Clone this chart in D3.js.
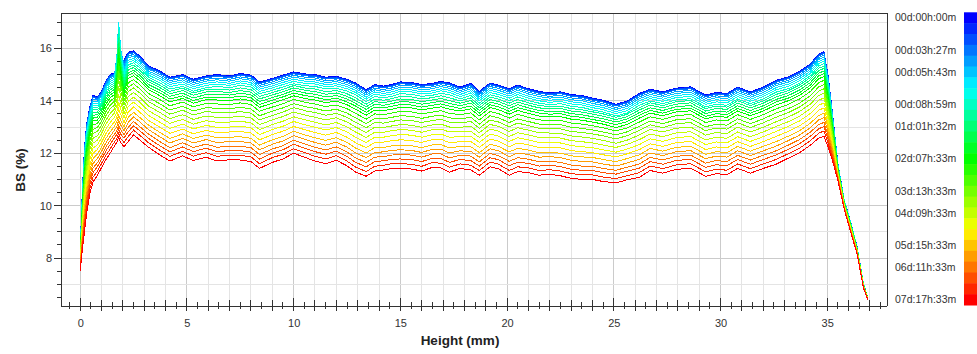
<!DOCTYPE html>
<html>
<head>
<meta charset="utf-8">
<script src="https://cdn.jsdelivr.net/npm/d3@7"></script>
<style>
  body { margin: 0; background: #fff; }
  svg { display: block; font-family: "Liberation Sans", Arial, sans-serif; }
</style>
</head>
<body>
<div id="chart"></div>
<script>
// heights along the sample (mm), shared by every curve
const heights = [
  0, 0.1, 0.2, 0.3, 0.45, 0.6, 0.8, 1.0, 1.2, 1.4, 1.6, 1.72, 1.8, 1.9, 2.05, 2.25, 2.5, 2.8, 3.2,
  3.7, 4.2, 4.8, 5.3, 5.9, 6.4, 7.0, 7.5, 8.0, 8.4, 9.0, 9.5, 10.0, 10.6, 11.0, 11.5, 12.0, 12.5, 12.9, 13.4,
  13.8, 14.2, 14.6, 15.0, 15.5, 16.0, 16.5, 16.9, 17.3, 17.8, 18.3, 18.7, 19.2, 19.6, 20.1, 20.5, 21.0, 21.5,
  22.0, 22.5, 23.0, 23.5, 24.0, 24.5, 25.1, 25.6, 26.2, 26.7, 27.3, 27.9, 28.6, 29.3, 29.8, 30.3, 30.8, 31.4,
  32.0, 32.6, 33.2, 33.7, 34.2, 34.6,
  34.85, 35.05, 35.25, 35.5, 35.8, 36.1, 36.4, 36.7, 36.9
];

// BS (%) curves, first scan (t = 0) first, last scan last
const bsCurves = [
  [8.4, 10.6, 12.2, 13.1, 13.75, 14.2, 14.15, 14.35, 14.75, 15.0, 15.07, 15.12, 15.3, 15.4, 15.55, 15.85, 15.9, 15.7, 15.33,
   15.15, 14.9, 15.0, 14.82, 14.95, 15.0, 14.95, 15.04, 14.98, 14.72, 14.85, 14.98, 15.1, 15.02, 15.0, 14.9, 14.93, 14.82, 14.68, 14.42,
   14.62, 14.56, 14.62, 14.72, 14.7, 14.62, 14.66, 14.74, 14.68, 14.52, 14.66, 14.36, 14.68, 14.6, 14.46, 14.6, 14.46, 14.36, 14.3, 14.34,
   14.24, 14.2, 14.1, 14.02, 13.87, 13.98, 14.28, 14.44, 14.34, 14.48, 14.53, 14.22, 14.32, 14.28, 14.52, 14.34, 14.52, 14.78, 14.92, 15.12,
   15.4, 15.78, 15.87, 14.9, 13.5, 11.6, 10.2, 9.37, 8.43, 7.03, 6.5],
  [8.39, 10.59, 12.18, 13.08, 13.73, 14.18, 14.13, 14.33, 14.73, 14.98, 15.05, 15.23, 15.6, 15.51, 15.53, 15.83, 15.88, 15.68, 15.31,
   15.13, 14.88, 14.98, 14.8, 14.93, 14.98, 14.93, 15.02, 14.96, 14.7, 14.83, 14.96, 15.08, 15.0, 14.98, 14.88, 14.91, 14.8, 14.66, 14.4,
   14.6, 14.54, 14.6, 14.7, 14.68, 14.6, 14.64, 14.72, 14.66, 14.5, 14.64, 14.34, 14.66, 14.58, 14.44, 14.58, 14.44, 14.34, 14.28, 14.32,
   14.22, 14.18, 14.08, 14.0, 13.85, 13.96, 14.26, 14.42, 14.32, 14.46, 14.51, 14.2, 14.3, 14.26, 14.5, 14.32, 14.5, 14.76, 14.9, 15.1,
   15.38, 15.76, 15.85, 14.88, 13.49, 11.6, 10.2, 9.37, 8.43, 7.03, 6.5],
  [8.39, 10.57, 12.16, 13.06, 13.71, 14.16, 14.11, 14.31, 14.71, 14.96, 15.03, 15.38, 16.0, 15.66, 15.49, 15.81, 15.86, 15.66, 15.29,
   15.11, 14.86, 14.96, 14.78, 14.91, 14.96, 14.91, 15.0, 14.94, 14.68, 14.81, 14.94, 15.06, 14.98, 14.96, 14.86, 14.89, 14.78, 14.64, 14.38,
   14.58, 14.52, 14.58, 14.68, 14.66, 14.58, 14.62, 14.7, 14.64, 14.48, 14.62, 14.32, 14.64, 14.56, 14.42, 14.56, 14.42, 14.32, 14.26, 14.3,
   14.2, 14.16, 14.06, 13.98, 13.83, 13.94, 14.24, 14.4, 14.3, 14.44, 14.49, 14.18, 14.28, 14.24, 14.48, 14.3, 14.48, 14.74, 14.88, 15.08,
   15.36, 15.74, 15.83, 14.86, 13.48, 11.59, 10.2, 9.36, 8.43, 7.03, 6.5],
  [8.38, 10.55, 12.13, 13.03, 13.68, 14.13, 14.08, 14.29, 14.68, 14.93, 15.01, 15.56, 16.5, 15.83, 15.43, 15.78, 15.83, 15.63, 15.26,
   15.08, 14.83, 14.93, 14.75, 14.88, 14.93, 14.88, 14.97, 14.91, 14.65, 14.78, 14.91, 15.03, 14.95, 14.93, 14.83, 14.86, 14.75, 14.61, 14.35,
   14.55, 14.49, 14.55, 14.65, 14.63, 14.55, 14.59, 14.67, 14.61, 14.45, 14.59, 14.29, 14.61, 14.53, 14.39, 14.53, 14.39, 14.29, 14.23, 14.27,
   14.17, 14.13, 14.03, 13.95, 13.8, 13.91, 14.21, 14.37, 14.27, 14.41, 14.46, 14.15, 14.25, 14.21, 14.45, 14.27, 14.45, 14.71, 14.85, 15.05,
   15.33, 15.71, 15.8, 14.84, 13.46, 11.59, 10.19, 9.36, 8.42, 7.03, 6.5],
  [8.36, 10.51, 12.07, 12.96, 13.62, 14.07, 14.03, 14.23, 14.63, 14.88, 14.96, 15.69, 16.9, 15.96, 15.34, 15.71, 15.77, 15.57, 15.21,
   15.02, 14.77, 14.87, 14.69, 14.82, 14.87, 14.82, 14.91, 14.85, 14.59, 14.72, 14.85, 14.97, 14.89, 14.87, 14.77, 14.8, 14.69, 14.55, 14.29,
   14.49, 14.43, 14.49, 14.59, 14.57, 14.49, 14.53, 14.61, 14.55, 14.39, 14.53, 14.23, 14.55, 14.47, 14.33, 14.47, 14.33, 14.23, 14.17, 14.21,
   14.11, 14.07, 13.97, 13.89, 13.74, 13.85, 14.15, 14.31, 14.21, 14.35, 14.4, 14.09, 14.19, 14.15, 14.39, 14.21, 14.39, 14.65, 14.79, 14.99,
   15.27, 15.65, 15.74, 14.79, 13.43, 11.57, 10.19, 9.35, 8.42, 7.02, 6.5],
  [8.34, 10.46, 12.0, 12.89, 13.54, 13.99, 13.96, 14.17, 14.56, 14.81, 14.89, 15.7, 17.0, 15.96, 15.22, 15.64, 15.7, 15.5, 15.13,
   14.95, 14.7, 14.8, 14.62, 14.75, 14.8, 14.75, 14.84, 14.78, 14.52, 14.65, 14.78, 14.9, 14.82, 14.8, 14.7, 14.73, 14.62, 14.48, 14.22,
   14.42, 14.36, 14.42, 14.52, 14.5, 14.42, 14.46, 14.54, 14.48, 14.32, 14.46, 14.16, 14.48, 14.4, 14.26, 14.4, 14.26, 14.16, 14.1, 14.14,
   14.04, 14.0, 13.9, 13.82, 13.67, 13.78, 14.08, 14.24, 14.14, 14.28, 14.33, 14.02, 14.12, 14.08, 14.32, 14.14, 14.32, 14.58, 14.72, 14.92,
   15.2, 15.58, 15.67, 14.73, 13.39, 11.56, 10.18, 9.35, 8.41, 7.02, 6.49],
  [8.32, 10.4, 11.92, 12.8, 13.46, 13.91, 13.89, 14.09, 14.49, 14.74, 14.82, 15.66, 17.0, 15.92, 15.11, 15.55, 15.62, 15.42, 15.06,
   14.87, 14.62, 14.72, 14.54, 14.67, 14.72, 14.67, 14.76, 14.7, 14.44, 14.57, 14.7, 14.82, 14.74, 14.72, 14.62, 14.65, 14.54, 14.4, 14.14,
   14.34, 14.28, 14.34, 14.44, 14.42, 14.34, 14.38, 14.46, 14.4, 14.24, 14.38, 14.08, 14.4, 14.32, 14.18, 14.32, 14.18, 14.08, 14.02, 14.06,
   13.96, 13.92, 13.82, 13.74, 13.59, 13.7, 14.0, 14.16, 14.06, 14.2, 14.25, 13.94, 14.04, 14.0, 14.24, 14.06, 14.24, 14.5, 14.64, 14.84,
   15.12, 15.5, 15.59, 14.66, 13.34, 11.54, 10.17, 9.34, 8.41, 7.01, 6.49],
  [8.3, 10.34, 11.84, 12.72, 13.38, 13.83, 13.81, 14.02, 14.41, 14.66, 14.75, 15.57, 16.9, 15.82, 15.0, 15.47, 15.54, 15.34, 14.98,
   14.79, 14.54, 14.64, 14.46, 14.59, 14.64, 14.59, 14.68, 14.62, 14.36, 14.49, 14.62, 14.74, 14.66, 14.64, 14.54, 14.57, 14.46, 14.32, 14.06,
   14.26, 14.2, 14.26, 14.36, 14.34, 14.26, 14.3, 14.38, 14.32, 14.16, 14.3, 14.0, 14.32, 14.24, 14.1, 14.24, 14.1, 14.0, 13.94, 13.98,
   13.88, 13.84, 13.74, 13.66, 13.51, 13.62, 13.92, 14.08, 13.98, 14.12, 14.17, 13.86, 13.96, 13.92, 14.16, 13.98, 14.16, 14.42, 14.56, 14.76,
   15.04, 15.42, 15.51, 14.59, 13.3, 11.53, 10.16, 9.33, 8.4, 7.01, 6.49],
  [8.27, 10.28, 11.75, 12.62, 13.29, 13.74, 13.73, 13.94, 14.33, 14.58, 14.68, 15.47, 16.75, 15.71, 14.89, 15.37, 15.45, 15.25, 14.9,
   14.7, 14.45, 14.55, 14.37, 14.5, 14.55, 14.5, 14.59, 14.53, 14.27, 14.4, 14.53, 14.65, 14.57, 14.55, 14.45, 14.48, 14.37, 14.23, 13.97,
   14.17, 14.11, 14.17, 14.27, 14.25, 14.17, 14.21, 14.29, 14.23, 14.07, 14.21, 13.91, 14.23, 14.15, 14.01, 14.15, 14.01, 13.91, 13.85, 13.89,
   13.79, 13.75, 13.65, 13.57, 13.42, 13.53, 13.83, 13.99, 13.89, 14.03, 14.08, 13.77, 13.87, 13.83, 14.07, 13.89, 14.07, 14.33, 14.47, 14.67,
   14.95, 15.33, 15.42, 14.52, 13.25, 11.51, 10.15, 9.32, 8.39, 7.0, 6.49],
  [8.25, 10.21, 11.66, 12.53, 13.2, 13.65, 13.65, 13.86, 14.25, 14.5, 14.6, 15.37, 16.6, 15.6, 14.78, 15.28, 15.36, 15.16, 14.81,
   14.61, 14.36, 14.48, 14.3, 14.43, 14.45, 14.41, 14.49, 14.43, 14.17, 14.31, 14.44, 14.58, 14.48, 14.45, 14.35, 14.39, 14.27, 14.11, 13.87,
   14.07, 14.02, 14.08, 14.17, 14.15, 14.07, 14.12, 14.19, 14.11, 14.0, 14.11, 13.82, 14.14, 14.06, 13.91, 14.05, 13.92, 13.82, 13.78, 13.8,
   13.7, 13.66, 13.58, 13.5, 13.37, 13.48, 13.74, 13.92, 13.82, 13.96, 14.01, 13.7, 13.8, 13.76, 14.0, 13.82, 14.0, 14.24, 14.4, 14.6,
   14.88, 15.24, 15.33, 14.45, 13.2, 11.49, 10.14, 9.3, 8.38, 7.0, 6.49],
  [8.22, 10.14, 11.57, 12.43, 13.1, 13.55, 13.56, 13.78, 14.16, 14.41, 14.52, 15.24, 16.4, 15.46, 14.66, 15.18, 15.27, 15.07, 14.72,
   14.52, 14.27, 14.39, 14.21, 14.34, 14.35, 14.32, 14.39, 14.33, 14.07, 14.22, 14.35, 14.49, 14.39, 14.35, 14.25, 14.3, 14.17, 14.01, 13.77,
   13.97, 13.93, 13.99, 14.07, 14.05, 13.97, 14.03, 14.09, 14.01, 13.91, 14.01, 13.73, 14.05, 13.97, 13.81, 13.95, 13.83, 13.73, 13.69, 13.71,
   13.61, 13.57, 13.49, 13.41, 13.28, 13.39, 13.65, 13.83, 13.73, 13.87, 13.92, 13.61, 13.71, 13.67, 13.91, 13.73, 13.91, 14.15, 14.31, 14.51,
   14.79, 15.15, 15.24, 14.37, 13.14, 11.47, 10.13, 9.29, 8.37, 6.99, 6.48],
  [8.19, 10.08, 11.47, 12.32, 13.0, 13.45, 13.47, 13.69, 14.07, 14.32, 14.43, 15.11, 16.2, 15.33, 14.55, 15.07, 15.17, 14.97, 14.62,
   14.42, 14.17, 14.29, 14.11, 14.24, 14.25, 14.22, 14.29, 14.23, 13.97, 14.12, 14.25, 14.39, 14.29, 14.25, 14.15, 14.2, 14.07, 13.9, 13.67,
   13.87, 13.83, 13.89, 13.97, 13.95, 13.87, 13.93, 13.99, 13.9, 13.81, 13.91, 13.63, 13.95, 13.87, 13.71, 13.85, 13.73, 13.63, 13.59, 13.61,
   13.51, 13.47, 13.39, 13.31, 13.19, 13.3, 13.55, 13.73, 13.63, 13.77, 13.82, 13.51, 13.61, 13.57, 13.81, 13.63, 13.81, 14.05, 14.21, 14.41,
   14.69, 15.05, 15.14, 14.28, 13.09, 11.45, 10.12, 9.28, 8.37, 6.99, 6.48],
  [8.17, 10.0, 11.37, 12.22, 12.89, 13.34, 13.37, 13.6, 13.97, 14.22, 14.34, 14.98, 16.0, 15.18, 14.43, 14.97, 15.07, 14.87, 14.52,
   14.32, 14.07, 14.19, 14.01, 14.14, 14.14, 14.12, 14.18, 14.12, 13.86, 14.02, 14.15, 14.29, 14.19, 14.14, 14.04, 14.1, 13.96, 13.8, 13.56,
   13.76, 13.73, 13.79, 13.86, 13.84, 13.76, 13.83, 13.88, 13.8, 13.71, 13.8, 13.53, 13.85, 13.77, 13.6, 13.74, 13.63, 13.53, 13.49, 13.51,
   13.41, 13.37, 13.29, 13.21, 13.09, 13.2, 13.45, 13.63, 13.53, 13.67, 13.72, 13.41, 13.51, 13.47, 13.71, 13.53, 13.71, 13.95, 14.11, 14.31,
   14.59, 14.95, 15.04, 14.2, 13.03, 11.43, 10.11, 9.27, 8.36, 6.98, 6.48],
  [8.13, 9.92, 11.26, 12.1, 12.78, 13.23, 13.26, 13.49, 13.86, 14.11, 14.24, 14.82, 15.75, 15.01, 14.31, 14.85, 14.96, 14.76, 14.42,
   14.21, 13.96, 14.09, 13.91, 14.04, 14.03, 14.01, 14.07, 14.01, 13.75, 13.91, 14.04, 14.19, 14.08, 14.03, 13.93, 13.99, 13.85, 13.68, 13.45,
   13.65, 13.62, 13.68, 13.75, 13.73, 13.65, 13.72, 13.77, 13.68, 13.61, 13.69, 13.42, 13.74, 13.66, 13.49, 13.63, 13.52, 13.42, 13.39, 13.4,
   13.3, 13.26, 13.19, 13.11, 12.98, 13.09, 13.34, 13.53, 13.43, 13.57, 13.62, 13.31, 13.41, 13.37, 13.61, 13.43, 13.61, 13.84, 14.01, 14.21,
   14.49, 14.84, 14.93, 14.1, 12.97, 11.41, 10.1, 9.25, 8.35, 6.98, 6.48],
  [8.09, 9.82, 11.11, 11.94, 12.63, 13.08, 13.13, 13.36, 13.73, 13.98, 14.12, 14.63, 15.45, 14.81, 14.16, 14.69, 14.81, 14.61, 14.28,
   14.06, 13.81, 13.95, 13.77, 13.9, 13.88, 13.86, 13.92, 13.86, 13.6, 13.76, 13.89, 14.05, 13.93, 13.88, 13.78, 13.84, 13.7, 13.52, 13.3,
   13.5, 13.47, 13.53, 13.6, 13.58, 13.5, 13.57, 13.62, 13.52, 13.47, 13.54, 13.27, 13.59, 13.51, 13.34, 13.48, 13.37, 13.27, 13.25, 13.25,
   13.15, 13.11, 13.05, 12.97, 12.85, 12.96, 13.19, 13.39, 13.29, 13.43, 13.48, 13.17, 13.27, 13.23, 13.47, 13.29, 13.47, 13.69, 13.87, 14.07,
   14.35, 14.69, 14.78, 13.98, 12.89, 11.38, 10.08, 9.24, 8.33, 6.97, 6.47],
  [8.05, 9.7, 10.95, 11.77, 12.46, 12.91, 12.98, 13.22, 13.58, 13.83, 13.98, 14.43, 15.15, 14.59, 13.99, 14.52, 14.65, 14.45, 14.12,
   13.9, 13.65, 13.79, 13.61, 13.74, 13.71, 13.7, 13.75, 13.69, 13.43, 13.6, 13.73, 13.89, 13.77, 13.71, 13.61, 13.68, 13.53, 13.35, 13.13,
   13.33, 13.31, 13.37, 13.43, 13.41, 13.33, 13.41, 13.45, 13.35, 13.31, 13.37, 13.11, 13.43, 13.35, 13.17, 13.31, 13.21, 13.11, 13.09, 13.09,
   12.99, 12.95, 12.89, 12.81, 12.7, 12.81, 13.03, 13.23, 13.13, 13.27, 13.32, 13.01, 13.11, 13.07, 13.31, 13.13, 13.31, 13.53, 13.71, 13.91,
   14.19, 14.53, 14.62, 13.85, 12.8, 11.35, 10.06, 9.22, 8.32, 6.96, 6.47],
  [8.0, 9.59, 10.79, 11.6, 12.3, 12.75, 12.83, 13.07, 13.43, 13.68, 13.84, 14.23, 14.85, 14.38, 13.84, 14.35, 14.49, 14.29, 13.97,
   13.74, 13.49, 13.64, 13.46, 13.59, 13.55, 13.54, 13.59, 13.53, 13.27, 13.44, 13.57, 13.74, 13.61, 13.55, 13.45, 13.52, 13.37, 13.18, 12.97,
   13.17, 13.15, 13.21, 13.27, 13.25, 13.17, 13.25, 13.29, 13.18, 13.16, 13.21, 12.95, 13.27, 13.19, 13.01, 13.15, 13.05, 12.95, 12.94, 12.93,
   12.83, 12.79, 12.74, 12.66, 12.55, 12.66, 12.87, 13.08, 12.98, 13.12, 13.17, 12.86, 12.96, 12.92, 13.16, 12.98, 13.16, 13.37, 13.56, 13.76,
   14.04, 14.37, 14.46, 13.71, 12.71, 11.31, 10.05, 9.2, 8.31, 6.95, 6.46],
  [7.95, 9.46, 10.62, 11.42, 12.12, 12.57, 12.66, 12.91, 13.26, 13.51, 13.68, 14.02, 14.55, 14.15, 13.67, 14.17, 14.32, 14.12, 13.8,
   13.57, 13.32, 13.47, 13.29, 13.42, 13.37, 13.37, 13.41, 13.35, 13.09, 13.27, 13.4, 13.57, 13.44, 13.37, 13.27, 13.35, 13.19, 13.0, 12.79,
   12.99, 12.98, 13.04, 13.09, 13.07, 12.99, 13.08, 13.11, 13.0, 12.99, 13.03, 12.78, 13.1, 13.02, 12.83, 12.97, 12.88, 12.78, 12.77, 12.76,
   12.66, 12.62, 12.57, 12.49, 12.38, 12.49, 12.7, 12.91, 12.81, 12.95, 13.0, 12.69, 12.79, 12.75, 12.99, 12.81, 12.99, 13.2, 13.39, 13.59,
   13.87, 14.2, 14.29, 13.56, 12.61, 11.28, 10.03, 9.18, 8.29, 6.94, 6.46],
  [7.9, 9.33, 10.44, 11.23, 11.93, 12.38, 12.5, 12.75, 13.1, 13.35, 13.53, 13.81, 14.25, 13.93, 13.5, 13.98, 14.14, 13.94, 13.62,
   13.39, 13.14, 13.29, 13.11, 13.24, 13.18, 13.19, 13.22, 13.16, 12.9, 13.09, 13.22, 13.39, 13.26, 13.18, 13.08, 13.17, 13.0, 12.81, 12.6,
   12.8, 12.8, 12.86, 12.9, 12.88, 12.8, 12.9, 12.92, 12.81, 12.81, 12.84, 12.6, 12.92, 12.84, 12.64, 12.78, 12.7, 12.6, 12.59, 12.58,
   12.48, 12.44, 12.39, 12.31, 12.22, 12.33, 12.52, 12.73, 12.63, 12.77, 12.82, 12.51, 12.61, 12.57, 12.81, 12.63, 12.81, 13.02, 13.21, 13.41,
   13.69, 14.02, 14.11, 13.41, 12.51, 11.24, 10.01, 9.16, 8.28, 6.93, 6.46],
  [7.85, 9.2, 10.25, 11.03, 11.74, 12.19, 12.32, 12.58, 12.92, 13.17, 13.36, 13.59, 13.95, 13.69, 13.34, 13.78, 13.95, 13.75, 13.44,
   13.2, 12.95, 13.11, 12.93, 13.06, 12.99, 13.0, 13.03, 12.97, 12.71, 12.9, 13.03, 13.21, 13.07, 12.99, 12.89, 12.98, 12.81, 12.61, 12.41,
   12.61, 12.61, 12.67, 12.71, 12.69, 12.61, 12.71, 12.73, 12.61, 12.63, 12.65, 12.41, 12.73, 12.65, 12.45, 12.59, 12.51, 12.41, 12.41, 12.39,
   12.29, 12.25, 12.21, 12.13, 12.04, 12.15, 12.33, 12.55, 12.45, 12.59, 12.64, 12.33, 12.43, 12.39, 12.63, 12.45, 12.63, 12.83, 13.03, 13.23,
   13.51, 13.83, 13.92, 13.25, 12.4, 11.2, 9.99, 9.13, 8.26, 6.92, 6.45],
  [7.8, 9.06, 10.06, 10.82, 11.54, 11.99, 12.14, 12.41, 12.74, 12.99, 13.19, 13.39, 13.7, 13.47, 13.17, 13.57, 13.76, 13.56, 13.25,
   13.01, 12.76, 12.92, 12.74, 12.87, 12.79, 12.81, 12.83, 12.77, 12.51, 12.71, 12.84, 13.02, 12.88, 12.79, 12.69, 12.79, 12.61, 12.4, 12.21,
   12.41, 12.42, 12.48, 12.51, 12.49, 12.41, 12.52, 12.53, 12.4, 12.44, 12.45, 12.22, 12.54, 12.46, 12.25, 12.39, 12.32, 12.22, 12.22, 12.2,
   12.1, 12.06, 12.02, 11.94, 11.86, 11.97, 12.14, 12.36, 12.26, 12.4, 12.45, 12.14, 12.24, 12.2, 12.44, 12.26, 12.44, 12.64, 12.84, 13.04,
   13.32, 13.64, 13.73, 13.09, 12.29, 11.16, 9.97, 9.11, 8.24, 6.91, 6.45],
  [7.74, 8.92, 9.86, 10.62, 11.34, 11.79, 11.96, 12.23, 12.56, 12.81, 13.03, 13.2, 13.45, 13.26, 13.01, 13.37, 13.56, 13.36, 13.07,
   12.81, 12.56, 12.74, 12.56, 12.69, 12.59, 12.61, 12.63, 12.57, 12.31, 12.51, 12.64, 12.84, 12.68, 12.59, 12.49, 12.59, 12.41, 12.2, 12.01,
   12.21, 12.22, 12.28, 12.31, 12.29, 12.21, 12.32, 12.33, 12.2, 12.26, 12.25, 12.02, 12.34, 12.26, 12.05, 12.19, 12.12, 12.02, 12.04, 12.0,
   11.9, 11.86, 11.84, 11.76, 11.68, 11.79, 11.94, 12.18, 12.08, 12.22, 12.27, 11.96, 12.06, 12.02, 12.26, 12.08, 12.26, 12.44, 12.66, 12.86,
   13.14, 13.44, 13.53, 12.93, 12.19, 11.13, 9.94, 9.09, 8.23, 6.9, 6.44],
  [7.69, 8.79, 9.69, 10.43, 11.16, 11.61, 11.79, 12.07, 12.39, 12.64, 12.87, 13.03, 13.25, 13.07, 12.86, 13.18, 13.39, 13.19, 12.9,
   12.64, 12.39, 12.57, 12.39, 12.52, 12.41, 12.44, 12.45, 12.39, 12.13, 12.34, 12.47, 12.67, 12.51, 12.41, 12.31, 12.42, 12.23, 12.01, 11.83,
   12.03, 12.05, 12.11, 12.13, 12.11, 12.03, 12.15, 12.15, 12.01, 12.09, 12.07, 11.85, 12.17, 12.09, 11.87, 12.01, 11.95, 11.85, 11.87, 11.83,
   11.73, 11.69, 11.67, 11.59, 11.51, 11.62, 11.77, 12.01, 11.91, 12.05, 12.1, 11.79, 11.89, 11.85, 12.09, 11.91, 12.09, 12.27, 12.49, 12.69,
   12.97, 13.27, 13.36, 12.78, 12.09, 11.09, 9.93, 9.06, 8.21, 6.89, 6.44],
  [7.64, 8.67, 9.51, 10.24, 10.98, 11.43, 11.63, 11.91, 12.23, 12.48, 12.72, 12.86, 13.05, 12.89, 12.71, 12.99, 13.21, 13.01, 12.73,
   12.46, 12.21, 12.4, 12.22, 12.35, 12.23, 12.26, 12.27, 12.21, 11.95, 12.16, 12.29, 12.5, 12.33, 12.23, 12.13, 12.24, 12.05, 11.82, 11.65,
   11.85, 11.87, 11.93, 11.95, 11.93, 11.85, 11.97, 11.97, 11.82, 11.92, 11.89, 11.67, 11.99, 11.91, 11.69, 11.83, 11.77, 11.67, 11.7, 11.65,
   11.55, 11.51, 11.5, 11.42, 11.35, 11.46, 11.59, 11.84, 11.74, 11.88, 11.93, 11.62, 11.72, 11.68, 11.92, 11.74, 11.92, 12.09, 12.32, 12.52,
   12.8, 13.09, 13.18, 12.63, 11.99, 11.05, 9.91, 9.04, 8.19, 6.88, 6.43],
  [7.6, 8.55, 9.35, 10.07, 10.81, 11.26, 11.48, 11.77, 12.08, 12.33, 12.58, 12.72, 12.9, 12.73, 12.57, 12.82, 13.05, 12.85, 12.57,
   12.3, 12.05, 12.24, 12.06, 12.19, 12.06, 12.1, 12.1, 12.04, 11.78, 12.0, 12.13, 12.34, 12.17, 12.06, 11.96, 12.08, 11.88, 11.65, 11.48,
   11.68, 11.71, 11.77, 11.78, 11.76, 11.68, 11.81, 11.8, 11.65, 11.76, 11.72, 11.51, 11.83, 11.75, 11.52, 11.66, 11.61, 11.51, 11.54, 11.49,
   11.39, 11.35, 11.34, 11.26, 11.2, 11.31, 11.43, 11.68, 11.58, 11.72, 11.77, 11.46, 11.56, 11.52, 11.76, 11.58, 11.76, 11.93, 12.16, 12.36,
   12.64, 12.93, 13.02, 12.5, 11.9, 11.02, 9.89, 9.02, 8.18, 6.87, 6.43],
  [7.55, 8.43, 9.18, 9.89, 10.63, 11.08, 11.31, 11.61, 11.91, 12.16, 12.42, 12.57, 12.75, 12.56, 12.41, 12.64, 12.88, 12.68, 12.4,
   12.13, 11.88, 12.07, 11.89, 12.02, 11.88, 11.93, 11.92, 11.86, 11.6, 11.83, 11.96, 12.17, 12.0, 11.88, 11.78, 11.91, 11.7, 11.47, 11.3,
   11.5, 11.54, 11.6, 11.6, 11.58, 11.5, 11.64, 11.62, 11.47, 11.59, 11.54, 11.34, 11.66, 11.58, 11.34, 11.48, 11.44, 11.34, 11.37, 11.32,
   11.22, 11.18, 11.17, 11.09, 11.03, 11.14, 11.26, 11.51, 11.41, 11.55, 11.6, 11.29, 11.39, 11.35, 11.59, 11.41, 11.59, 11.76, 11.99, 12.19,
   12.47, 12.76, 12.85, 12.35, 11.8, 10.99, 9.87, 9.0, 8.17, 6.86, 6.42],
  [7.5, 8.3, 9.0, 9.7, 10.45, 10.9, 11.15, 11.45, 11.75, 12.0, 12.27, 12.42, 12.6, 12.4, 12.25, 12.45, 12.7, 12.5, 12.23,
   11.95, 11.7, 11.9, 11.72, 11.85, 11.7, 11.75, 11.74, 11.68, 11.42, 11.65, 11.78, 12.0, 11.82, 11.7, 11.6, 11.73, 11.52, 11.28, 11.12,
   11.32, 11.36, 11.42, 11.42, 11.4, 11.32, 11.46, 11.44, 11.28, 11.42, 11.36, 11.16, 11.48, 11.4, 11.16, 11.3, 11.26, 11.16, 11.2, 11.14,
   11.04, 11.0, 11.0, 10.92, 10.87, 10.98, 11.08, 11.34, 11.24, 11.38, 11.43, 11.12, 11.22, 11.18, 11.42, 11.24, 11.42, 11.58, 11.82, 12.02,
   12.3, 12.58, 12.65, 12.2, 11.7, 10.95, 9.85, 8.98, 8.15, 6.85, 6.42]
];

// colour-bar labels and the scan each one sits on
const legendIndex = [0, 3, 5, 8, 10, 13, 16, 18, 21, 23, 26];
const legendLabels = ['00d:00h:00m', '00d:03h:27m', '00d:05h:43m', '00d:08h:59m', '01d:01h:32m',
  '02d:07h:33m', '03d:13h:33m', '04d:09h:33m', '05d:15h:33m', '06d:11h:33m', '07d:17h:33m'];

const xTickValues = [0, 5, 10, 15, 20, 25, 30, 35];
const yTickValues = [8, 10, 12, 14, 16];

const width = 977, height = 354;
const plot = { left: 61, right: 887, top: 13, bottom: 306 };

const svg = d3.select('#chart').append('svg')
  .attr('width', width)
  .attr('height', height);

const x = d3.scaleLinear().domain([-0.9, 37.8]).range([plot.left, plot.right]);
const y = d3.scaleLinear().domain([6.17, 17.35]).range([plot.bottom, plot.top]);

const color = i => d3.hsl(240 - 240 * i / (bsCurves.length - 1), 1, 0.5).toString();

// grid
const grid = svg.append('g').attr('shape-rendering', 'crispEdges');
grid.selectAll('.vgrid')
  .data(d3.range(0, 38))
  .join('line')
  .attr('class', 'vgrid')
  .attr('x1', d => x(d)).attr('x2', d => x(d))
  .attr('y1', plot.top).attr('y2', plot.bottom)
  .attr('stroke', d => d % 5 === 0 ? '#cbcbcb' : '#e4e4e4');
grid.selectAll('.hgrid')
  .data(d3.range(7, 18))
  .join('line')
  .attr('class', 'hgrid')
  .attr('x1', plot.left).attr('x2', plot.right)
  .attr('y1', d => y(d)).attr('y2', d => y(d))
  .attr('stroke', d => d % 2 === 0 ? '#cbcbcb' : '#e4e4e4');

// curves
const line = d3.line()
  .x((d, j) => x(heights[j]))
  .y(d => y(d));

svg.append('g')
  .attr('shape-rendering', 'crispEdges')
  .selectAll('path')
  .data(bsCurves)
  .join('path')
  .attr('d', line)
  .attr('fill', 'none')
  .attr('stroke', (d, i) => color(i))
  .attr('stroke-width', 1);

// frame and ticks
const frame = svg.append('g').attr('stroke', '#333').attr('shape-rendering', 'crispEdges');
frame.append('line').attr('x1', plot.left).attr('x2', plot.right).attr('y1', plot.top).attr('y2', plot.top);
frame.append('line').attr('x1', plot.right).attr('x2', plot.right).attr('y1', plot.top).attr('y2', plot.bottom);
frame.append('line').attr('x1', plot.left).attr('x2', plot.left).attr('y1', plot.top).attr('y2', plot.bottom);
frame.append('line').attr('x1', plot.left).attr('x2', plot.right).attr('y1', plot.bottom).attr('y2', plot.bottom);

frame.selectAll('.xtick')
  .data(d3.range(-0.5, 38, 0.5))
  .join('line')
  .attr('class', 'xtick')
  .attr('x1', d => x(d)).attr('x2', d => x(d))
  .attr('y1', d => plot.bottom - (d % 5 === 0 ? 8 : d % 1 === 0 ? 6 : 4))
  .attr('y2', d => plot.bottom + (d % 1 === 0 ? 5 : 3));

frame.selectAll('.ytick')
  .data(d3.range(6.5, 17.5, 0.5))
  .join('line')
  .attr('class', 'ytick')
  .attr('x1', d => plot.left - (d % 2 === 0 ? 7 : 4)).attr('x2', plot.left)
  .attr('y1', d => y(d)).attr('y2', d => y(d));

// tick labels
svg.append('g')
  .attr('transform', `translate(0,${plot.bottom})`)
  .call(d3.axisBottom(x).tickValues(xTickValues).tickSize(0).tickPadding(13))
  .call(g => g.select('.domain').remove())
  .attr('font-family', null)
  .attr('font-size', 11)
  .selectAll('text').attr('fill', '#333');

svg.append('g')
  .attr('transform', `translate(${plot.left},0)`)
  .call(d3.axisLeft(y).tickValues(yTickValues).tickSize(0).tickPadding(9))
  .call(g => g.select('.domain').remove())
  .attr('font-family', null)
  .attr('font-size', 11)
  .selectAll('text').attr('fill', '#333');

// axis titles
svg.append('text')
  .attr('x', 460).attr('y', 345)
  .attr('text-anchor', 'middle')
  .attr('font-weight', 'bold')
  .attr('font-size', 13.5)
  .attr('fill', '#222')
  .text('Height (mm)');

svg.append('text')
  .attr('transform', 'translate(25,170) rotate(-90)')
  .attr('text-anchor', 'middle')
  .attr('font-weight', 'bold')
  .attr('font-size', 13.5)
  .attr('fill', '#222')
  .text('BS (%)');

// colour bar
const band = d3.scaleBand().domain(d3.range(bsCurves.length)).range([12.3, 305]);
svg.append('g')
  .selectAll('rect')
  .data(d3.range(bsCurves.length))
  .join('rect')
  .attr('x', 964).attr('width', 20)
  .attr('y', d => band(d)).attr('height', band.bandwidth() + 0.5)
  .attr('fill', d => color(d));

svg.append('g')
  .selectAll('text')
  .data(legendIndex)
  .join('text')
  .attr('x', 895)
  .attr('y', d => band(d) + band.bandwidth() / 2)
  .attr('dy', '0.35em')
  .attr('font-size', 10.5)
  .attr('fill', '#333')
  .text((d, k) => legendLabels[k]);
</script>
</body>
</html>
